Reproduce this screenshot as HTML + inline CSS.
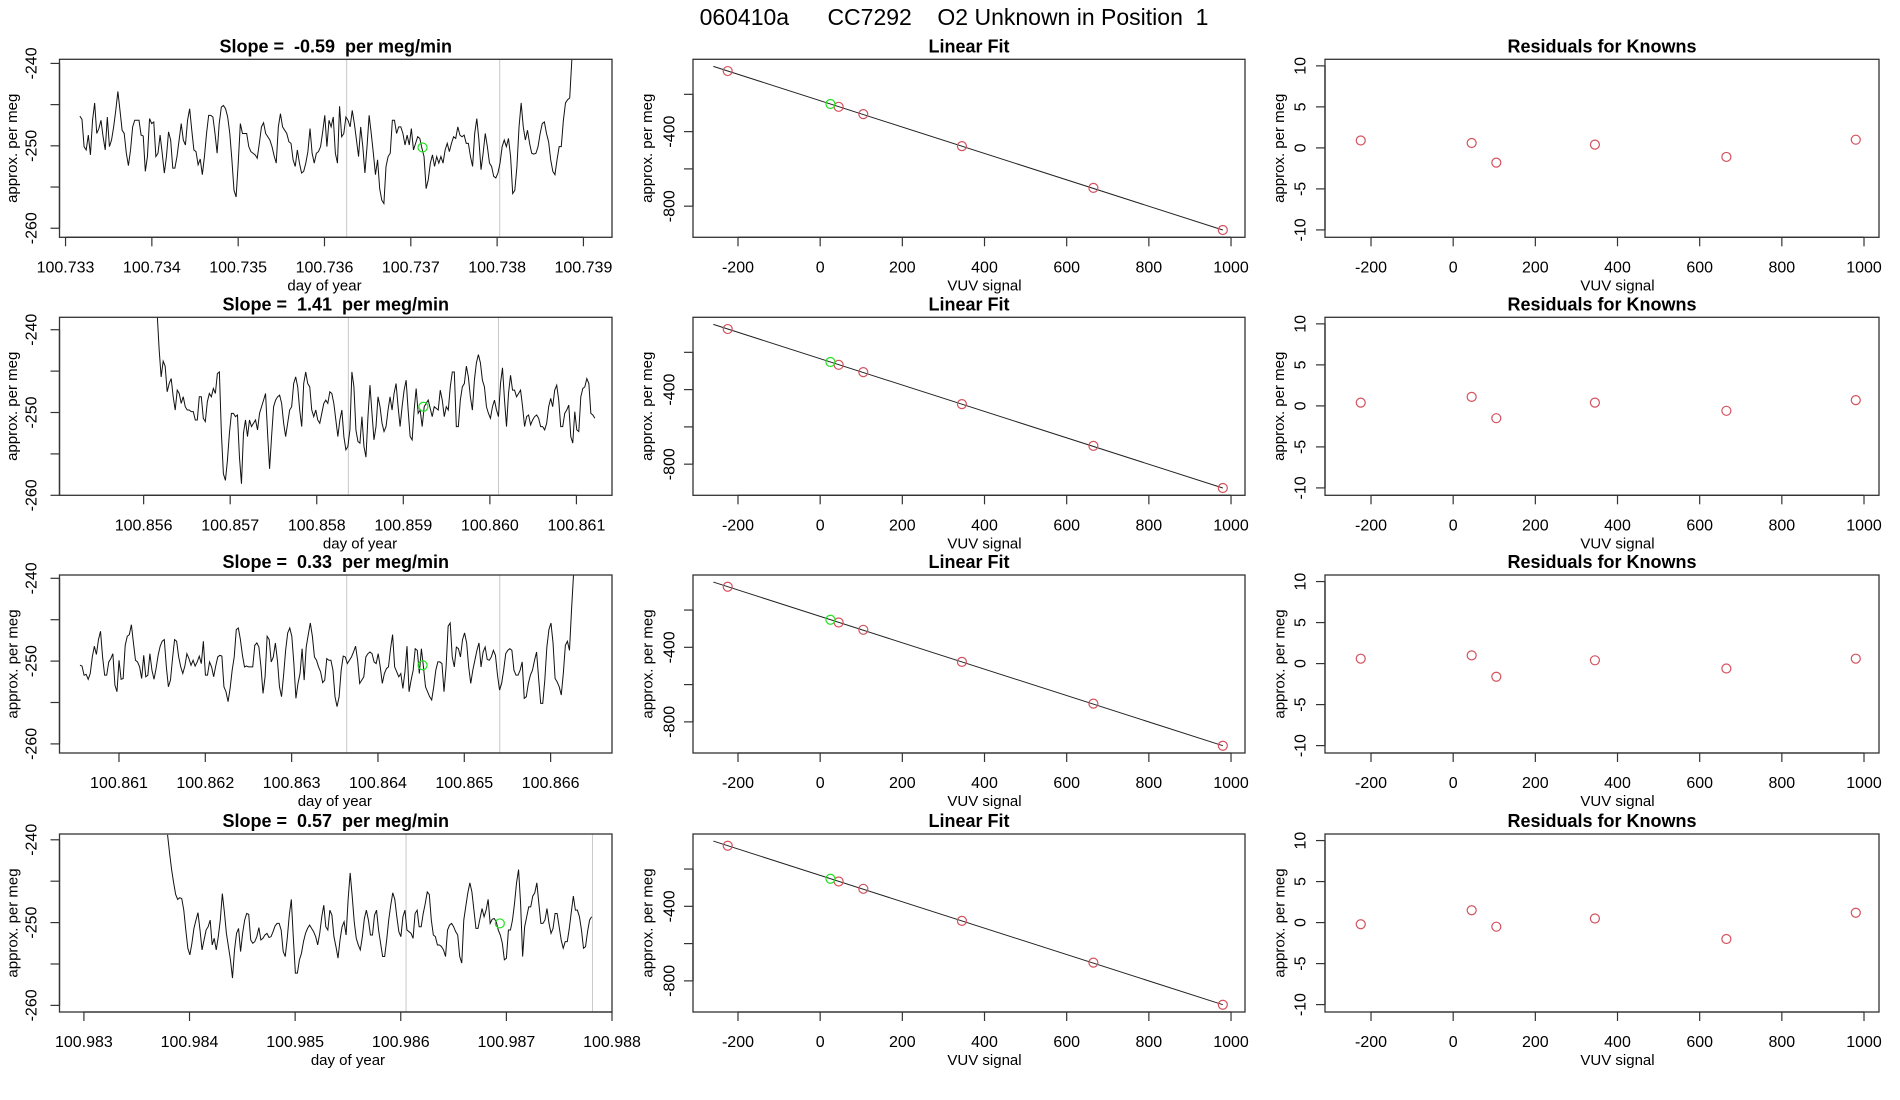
<!DOCTYPE html>
<html><head><meta charset="utf-8"><style>
html,body{margin:0;padding:0;background:#fff}
svg{display:block;font-family:"Liberation Sans",sans-serif}
</style></head><body>
<svg id="chart" width="1900" height="1100" viewBox="0 0 1900 1100" xmlns="http://www.w3.org/2000/svg">
<rect width="1900" height="1100" fill="#fff"/>
<text x="954" y="25" font-size="23" text-anchor="middle" style="white-space:pre">060410a      CC7292    O2 Unknown in Position  1</text>
</svg>
<script>
// ---------- DATA ----------
const slopeLabels = ["-0.59", "1.41", "0.33", "0.57"];
const row1Values = [-246.4,-246.8,-250.1,-250.5,-248.7,-251.1,-246.9,-244.8,-248.5,-247.9,-246.9,-248.9,-250.5,-246.5,-250.1,-249.3,-247.7,-245.7,-243.4,-245.7,-248.1,-248.5,-250.9,-252.4,-250.5,-247.7,-246.9,-246.9,-246.9,-248.7,-248.8,-253.1,-251.3,-246.7,-247.3,-247.1,-251.3,-250.9,-248.7,-250.9,-253.3,-251.3,-248.3,-249.3,-252.7,-252.7,-251.3,-249.3,-247.3,-249.3,-249.9,-246.9,-245.5,-248.1,-250.5,-250.7,-252.3,-251.6,-253.5,-251.3,-248.5,-246.3,-246.3,-246.5,-248.5,-250.9,-247.3,-245.3,-245.1,-245.5,-246.5,-248.5,-251.7,-255.4,-256.2,-252.1,-247.3,-248.5,-248.5,-248.5,-250.1,-250.7,-250.9,-251.1,-251.5,-249.7,-247.7,-247.2,-248.5,-248.9,-249.3,-250.1,-251.2,-252.1,-247.7,-246.1,-247.7,-248.1,-248.5,-249.5,-249.7,-251.7,-252.5,-250.5,-252.1,-253.3,-253.1,-252.1,-250.7,-247.9,-250.9,-252.1,-250.9,-250.7,-250.1,-248.3,-246.3,-250.1,-246.9,-247.7,-246.5,-250.9,-252.1,-245.2,-248.9,-248.5,-246.5,-246.9,-247.7,-245.7,-247.3,-249.3,-251.3,-247.7,-250.1,-253.3,-250.1,-246.3,-248.5,-250.9,-253.5,-251.7,-255.2,-256.6,-257.0,-252.5,-251.3,-250.9,-246.9,-246.9,-248.5,-247.7,-247.7,-248.5,-249.9,-248.7,-249.9,-247.9,-250.5,-249.7,-248.9,-249.1,-250.3,-251.3,-255.2,-254.1,-252.1,-251.1,-252.5,-251.3,-252.1,-251.3,-252.1,-250.5,-249.7,-250.7,-249.7,-248.9,-249.1,-247.7,-248.7,-248.9,-248.7,-249.7,-249.7,-251.3,-252.5,-248.5,-246.7,-249.3,-252.9,-250.9,-248.5,-250.1,-252.1,-252.5,-253.7,-253.9,-253.3,-252.1,-250.1,-249.3,-250.1,-249.1,-251.3,-255.8,-255.4,-252.5,-247.7,-244.8,-247.7,-249.3,-248.1,-249.7,-250.9,-251.0,-250.9,-250.1,-248.5,-247.3,-247.1,-248.5,-249.5,-251.7,-253.1,-253.5,-251.7,-250.1,-250.1,-246.9,-244.8,-244.4,-244.2,-239.6,-236];
const row2Values = [-238.0,-242.4,-245.7,-243.8,-244.4,-247.5,-246.5,-245.9,-248.1,-249.7,-247.3,-247.7,-248.9,-248.1,-249.3,-249.7,-249.7,-249.9,-249.9,-250.9,-250.9,-248.1,-248.1,-250.7,-251.1,-248.7,-247.7,-248.1,-247.1,-247.7,-245.3,-245.1,-252.5,-257.4,-258.2,-255.8,-252.5,-250.1,-250.1,-250.5,-250.3,-255.4,-258.6,-252.5,-250.9,-252.9,-250.9,-251.7,-251.3,-250.9,-252.1,-250.1,-249.3,-248.5,-247.7,-252.5,-256.8,-252.9,-249.3,-248.5,-248.1,-247.9,-248.9,-251.3,-252.9,-251.3,-249.7,-249.3,-246.5,-245.7,-246.9,-249.7,-251.7,-246.5,-245.1,-246.5,-246.9,-249.7,-250.5,-249.7,-250.9,-251.3,-250.1,-248.9,-248.5,-248.9,-247.5,-247.7,-248.9,-250.9,-252.9,-250.9,-249.7,-252.9,-254.5,-254.1,-252.1,-245.1,-246.9,-252.1,-253.5,-253.7,-250.5,-254.1,-255.4,-250.5,-246.7,-250.1,-253.3,-251.7,-248.1,-249.3,-251.3,-252.3,-251.7,-249.7,-248.1,-249.7,-247.7,-246.5,-249.3,-251.7,-249.3,-247.3,-246.1,-249.7,-252.9,-253.3,-249.7,-247.1,-250.1,-249.7,-251.7,-249.3,-248.9,-248.5,-249.5,-250.5,-249.3,-249.5,-249.7,-247.3,-248.5,-250.5,-249.3,-249.7,-246.9,-245.1,-245.1,-251.7,-251.7,-248.5,-246.9,-246.5,-244.4,-245.7,-248.1,-249.7,-246.1,-244.0,-243.0,-244.0,-246.1,-246.9,-249.3,-250.1,-250.7,-249.3,-248.5,-249.7,-250.5,-246.5,-244.6,-248.5,-251.7,-247.7,-245.5,-247.3,-247.3,-248.1,-247.7,-247.3,-249.3,-251.7,-250.5,-250.3,-251.5,-250.9,-250.5,-250.3,-250.7,-251.7,-251.7,-252.1,-251.3,-249.3,-248.3,-249.3,-247.3,-246.7,-248.5,-251.7,-251.7,-250.1,-249.7,-249.1,-252.9,-253.7,-249.9,-252.1,-252.3,-248.1,-247.1,-246.9,-245.9,-246.5,-250.1,-250.3,-250.7];
const row3Values = [-250.5,-250.6,-251.7,-251.6,-252.2,-251.5,-249.5,-248.2,-249.2,-247.4,-246.4,-249.5,-251.7,-251.7,-250.1,-249.7,-249.1,-252.9,-253.7,-249.9,-252.2,-252.1,-248.1,-247.0,-246.8,-245.6,-247.8,-249.9,-250.1,-250.7,-252.1,-249.3,-251.9,-251.7,-249.1,-251.1,-252.2,-250.9,-249.3,-248.2,-247.6,-247.4,-250.7,-253.1,-252.3,-249.7,-247.4,-247.6,-249.5,-250.7,-251.5,-250.6,-249.1,-249.7,-250.5,-249.9,-250.6,-250.1,-249.4,-250.3,-247.6,-251.7,-251.7,-250.1,-250.7,-251.9,-250.6,-249.5,-249.3,-249.4,-253.1,-253.7,-254.9,-253.3,-251.1,-249.5,-246.2,-246.0,-247.4,-249.3,-250.7,-250.6,-250.7,-250.7,-250.7,-248.1,-247.8,-248.3,-250.7,-253.9,-251.9,-247.0,-247.4,-250.1,-249.5,-247.8,-249.9,-253.1,-254.3,-251.7,-248.7,-246.6,-246.0,-247.0,-250.3,-254.5,-252.7,-251.5,-248.5,-252.3,-248.3,-246.8,-245.4,-247.0,-249.5,-249.9,-250.7,-251.3,-252.6,-252.3,-249.7,-249.9,-249.9,-251.1,-254.3,-255.5,-254.3,-251.1,-249.4,-249.5,-250.3,-249.9,-249.5,-248.9,-248.2,-249.9,-252.7,-252.3,-251.9,-249.5,-249.1,-248.9,-249.1,-250.1,-250.3,-249.1,-250.7,-252.7,-251.5,-250.9,-250.7,-248.5,-246.8,-250.7,-251.3,-251.9,-251.5,-253.3,-251.3,-248.2,-253.7,-252.3,-251.1,-248.5,-248.7,-251.5,-248.5,-250.7,-253.1,-253.7,-254.3,-254.7,-253.1,-251.1,-250.1,-250.1,-250.3,-253.7,-250.7,-245.8,-245.4,-249.5,-250.7,-248.3,-248.5,-249.5,-247.4,-246.6,-247.8,-250.7,-252.7,-251.1,-249.9,-248.7,-247.8,-250.7,-248.9,-248.3,-249.8,-249.9,-249.5,-248.7,-249.3,-251.7,-253.5,-252.7,-251.1,-249.1,-248.7,-248.5,-248.7,-251.1,-251.7,-251.7,-251.1,-250.1,-254.5,-254.3,-252.7,-251.7,-251.1,-249.9,-248.9,-252.1,-255.1,-255.1,-252.3,-248.3,-246.2,-245.4,-247.8,-252.1,-252.5,-253.1,-254.1,-251.5,-248.1,-247.6,-248.7,-243.8,-239.4,-236];
const row4Values = [-239.4,-241.6,-243.6,-245.2,-246.6,-247.2,-247.0,-247.1,-248.5,-250.9,-253.1,-253.9,-252.5,-250.7,-249.7,-248.8,-250.9,-253.3,-252.1,-250.9,-250.5,-249.7,-252.7,-251.9,-253.3,-251.7,-249.7,-246.5,-248.7,-251.3,-252.9,-254.5,-256.7,-253.3,-251.3,-250.7,-253.5,-251.3,-249.7,-248.9,-249.0,-252.1,-252.5,-252.3,-251.7,-250.6,-252.1,-251.9,-251.5,-251.3,-251.8,-251.7,-251.1,-250.4,-250.1,-250.1,-250.9,-253.5,-254.1,-251.9,-249.1,-247.2,-251.9,-256.1,-256.1,-254.5,-253.7,-252.3,-251.3,-250.7,-250.3,-250.7,-251.1,-251.7,-252.7,-251.3,-249.3,-247.9,-250.5,-250.9,-248.5,-249.1,-251.7,-252.9,-254.3,-252.1,-250.5,-249.9,-251.5,-247.2,-244.0,-246.8,-249.9,-251.9,-252.7,-253.3,-251.7,-249.5,-248.5,-249.7,-251.5,-251.5,-249.1,-248.5,-250.9,-252.5,-254.1,-254.1,-252.1,-249.7,-247.9,-246.4,-247.2,-249.3,-251.1,-251.7,-249.3,-248.5,-250.9,-251.1,-251.3,-251.9,-248.9,-248.5,-250.5,-250.5,-248.9,-247.7,-246.3,-246.6,-249.7,-251.5,-251.7,-252.7,-252.7,-252.9,-253.3,-254.1,-250.9,-250.3,-250.1,-250.5,-251.1,-251.5,-254.1,-254.9,-249.7,-248.0,-246.4,-245.2,-246.3,-248.5,-250.7,-250.7,-249.5,-248.3,-249.3,-248.5,-247.2,-250.1,-249.6,-249.5,-249.9,-250.9,-251.5,-252.5,-254.5,-254.3,-250.9,-250.9,-249.7,-247.7,-245.2,-243.6,-247.7,-254.1,-250.5,-249.3,-248.1,-248.1,-246.8,-246.4,-245.2,-247.7,-250.1,-250.1,-249.7,-248.3,-250.1,-251.3,-250.7,-248.9,-248.9,-250.5,-252.1,-253.1,-252.3,-252.3,-250.7,-248.7,-246.8,-248.5,-248.5,-249.3,-250.9,-253.1,-252.9,-251.1,-249.7,-249.3];
const seriesValues = [row1Values, row2Values, row3Values, row4Values];
const timeStart = [100.733166, 100.856156, 100.860548, 100.983792];
const timeEnd   = [100.738890, 100.861213, 100.866290, 100.987807];
const markerTimes = [[100.736257, 100.738030],[100.858365, 100.860100],[100.863638, 100.865411],[100.986050, 100.987815]];
const unknownTime  = [100.737136, 100.859232, 100.864517, 100.986938];
const unknownValue = [-250.2, -249.3, -250.5, -250.1];
const xTickStart = [100.733, 100.856, 100.861, 100.983];
const xTickCount = [7, 6, 6, 6];
const xDomain = [[100.73293,100.739331],[100.855028,100.861411],[100.860311,100.866711],[100.982769,100.988]];
const yDomain = [[-261.1,-239.5],[-260.0,-238.5],[-261.1,-239.6],[-260.8,-239.3]];
const timeYTicks = [-240,-245,-250,-255,-260];
const timeYLabels = ["-240","","-250","","-260"];

const knownSignal = [-225, 45, 105, 345, 665, 980];
const knownPerMeg = [-75, -267, -306, -478, -702, -928];
const unknownSignal = [25, 25, 25, 25];
const unknownPerMeg = [-252, -252, -252, -252];
const fitIntercept = [-234, -234, -234, -234];
const fitSlope = [-0.708, -0.708, -0.708, -0.708];
const fitXRange = [-260, 980];
const fitYTicks = [-200,-400,-600,-800];
const fitYLabels = ["","-400","","-800"];
const signalTicks = [-200,0,200,400,600,800,1000];
const residRow1 = [0.9, 0.6, -1.8, 0.4, -1.1, 1.0];
const residRow2 = [0.4, 1.1, -1.5, 0.4, -0.6, 0.7];
const residRow3 = [0.6, 1.0, -1.6, 0.4, -0.6, 0.6];
const residRow4 = [-0.2, 1.5, -0.5, 0.5, -2.0, 1.2];
const residuals = [residRow1, residRow2, residRow3, residRow4];
const residTicks = [-10,-5,0,5,10];

// ---------- DRAW ----------
const svg = document.getElementById('chart');
const NS = 'http://www.w3.org/2000/svg';
function mk(tag, attrs, parent){ const e=document.createElementNS(NS,tag); for(const k in attrs) e.setAttribute(k,attrs[k]); (parent||svg).appendChild(e); return e; }
function lin(d0,d1,r0,r1){ return v => r0 + (v-d0)/(d1-d0)*(r1-r0); }

const rowTop = [59.3, 317.3, 575, 834];
const boxH = 178;
const cols = [[59.5,612],[693,1245],[1325,1879]];
const RED = '#d4515d', GREEN = '#22e022';

function frame(x0,x1,top,name){
  const r = mk('rect',{x:x0,y:top,width:x1-x0,height:boxH,fill:'none',stroke:'#333','stroke-width':1.3});
  
  
}
function xAxis(xs, ticks, labels, top, title){
  const g = mk('g',{});
  
  
  const yb = top+boxH;
  mk('line',{x1:xs(ticks[0]),x2:xs(ticks[ticks.length-1]),y1:yb,y2:yb,stroke:'#333','stroke-width':1.3},g);
  ticks.forEach((t,i)=>{
    const x = xs(t);
    mk('line',{x1:x,x2:x,y1:yb,y2:yb+9,stroke:'#333','stroke-width':1.2},g);
    const tx = mk('text',{x:x,y:yb+35,'font-size':16,'text-anchor':'middle'},g);
    tx.textContent = labels[i];
    
    
  });
  const tt = mk('text',{x:(xs(ticks[0])+xs(ticks[ticks.length-1]))/2,y:yb+53,'font-size':15,'text-anchor':'middle'},g);
  tt.textContent = title;
  
  
}
function yAxis(ys, x0, ticks, labels, top, labelX, titleX){
  const g = mk('g',{});
  
  
  mk('line',{x1:x0,x2:x0,y1:ys(ticks[0]),y2:ys(ticks[ticks.length-1]),stroke:'#333','stroke-width':1.3},g);
  ticks.forEach((t,i)=>{
    const y = ys(t);
    mk('line',{x1:x0-9,x2:x0,y1:y,y2:y,stroke:'#333','stroke-width':1.2},g);
    if(labels[i]){
      const tx = mk('text',{x:labelX,y:y,'font-size':16,'text-anchor':'middle',transform:`rotate(-90 ${labelX} ${y})`,dy:'0.35em'},g);
      tx.textContent = labels[i];
      
      
    }
  });
  const cy = top+boxH/2;
  const tt = mk('text',{x:titleX,y:cy,'font-size':15,'text-anchor':'middle',transform:`rotate(-90 ${titleX} ${cy})`,dy:'0.35em'},g);
  tt.textContent = 'approx. per meg';
  
  
}
function title(txt, cx, top, name){
  const t = mk('text',{x:cx,y:top-7,'font-size':18,'font-weight':'bold','text-anchor':'middle',style:'white-space:pre'});
  t.textContent = txt;
  
  
}
function circle(cx,cy,color,parent,name){
  const c = mk('circle',{cx:cx,cy:cy,r:4.5,fill:'none',stroke:color,'stroke-width':1.2},parent);
  
  
}

for(let r=0;r<4;r++){
  const top = rowTop[r], bot = top+boxH;
  // ---- time series panel ----
  const [c0,c1] = cols[0];
  const xs = lin(xDomain[r][0], xDomain[r][1], c0, c1);
  const ys = lin(yDomain[r][0], yDomain[r][1], bot, top);
  const clipId = 'clip'+r;
  const cp = mk('clipPath',{id:clipId});
  mk('rect',{x:c0,y:top,width:c1-c0,height:boxH},cp);
  const g = mk('g',{'clip-path':`url(#${clipId})`});
  
  
  markerTimes[r].forEach(t=>{
    const l = mk('line',{x1:xs(t),x2:xs(t),y1:top,y2:bot,stroke:'#c8c8c8','stroke-width':1},g);
    
    
  });
  const vals = seriesValues[r];
  const n = vals.length;
  const pts = vals.map((v,i)=>{ const t = timeStart[r] + (timeEnd[r]-timeStart[r])*i/(n-1); return xs(t).toFixed(2)+','+ys(v).toFixed(2); });
  const pl = mk('polyline',{points:pts.join(' '),fill:'none',stroke:'#111','stroke-width':1},g);
  
  
  circle(xs(unknownTime[r]), ys(unknownValue[r]), GREEN, g, 'unknown-point');
  frame(c0,c1,top,'time-series-frame');
  const xt = []; for(let i=0;i<xTickCount[r];i++) xt.push(+(xTickStart[r]+i*0.001).toFixed(3));
  xAxis(xs, xt, xt.map(v=>v.toFixed(3)), top, 'day of year');
  yAxis(ys, c0, timeYTicks, timeYLabels, top, 31, 12);
  title('Slope =  '+slopeLabels[r]+'  per meg/min', (c0+c1)/2, top, 'slope-title');

  // ---- linear fit panel ----
  const [f0,f1] = cols[1];
  const fx = lin(-309.5, 1034, f0, f1);
  const fy = lin(-967, -12, bot, top);
  const fg = mk('g',{});
  
  
  const fl = mk('line',{x1:fx(fitXRange[0]),y1:fy(fitIntercept[r]+fitSlope[r]*fitXRange[0]),x2:fx(fitXRange[1]),y2:fy(fitIntercept[r]+fitSlope[r]*fitXRange[1]),stroke:'#222','stroke-width':1},fg);
  
  
  knownSignal.forEach((s,i)=>circle(fx(s), fy(knownPerMeg[i]), RED, fg, 'known-point'));
  circle(fx(unknownSignal[r]), fy(unknownPerMeg[r]), GREEN, fg, 'unknown-point');
  frame(f0,f1,top,'linear-fit-frame');
  xAxis(fx, signalTicks, signalTicks.map(String), top, 'VUV signal');
  yAxis(fy, f0, fitYTicks, fitYLabels, top, 669, 647);
  title('Linear Fit', (f0+f1)/2, top, 'linear-fit-title');

  // ---- residual panel ----
  const [q0,q1] = cols[2];
  const qx = lin(-312, 1036.5, q0, q1);
  const qy = lin(-10.9, 10.8, bot, top);
  const qg = mk('g',{});
  
  
  knownSignal.forEach((s,i)=>circle(qx(s), qy(residuals[r][i]), RED, qg, 'residual-point'));
  frame(q0,q1,top,'residual-frame');
  xAxis(qx, signalTicks, signalTicks.map(String), top, 'VUV signal');
  yAxis(qy, q0, residTicks, residTicks.map(String), top, 1300, 1279);
  title('Residuals for Knowns', (q0+q1)/2, top, 'residuals-title');
}
</script>
</body></html>
